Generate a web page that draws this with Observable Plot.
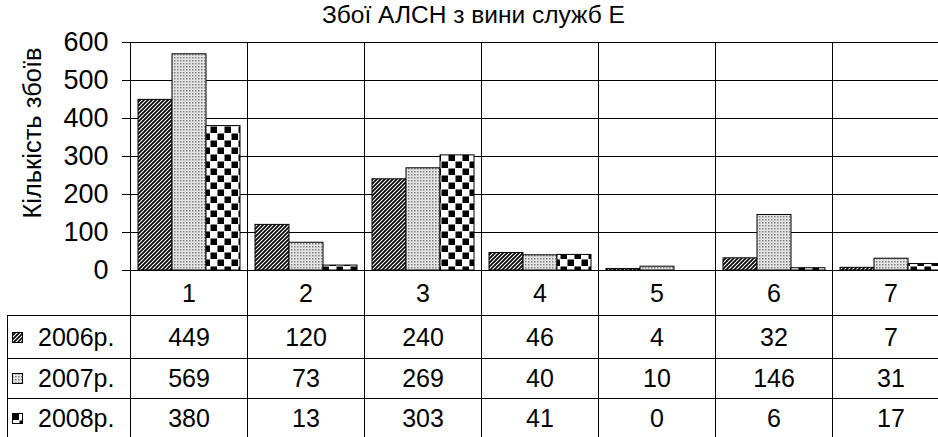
<!DOCTYPE html>
<html><head><meta charset="utf-8">
<script src="https://cdn.jsdelivr.net/npm/d3@7"></script>
<script src="https://cdn.jsdelivr.net/npm/@observablehq/plot@0.6"></script>
<style>
html,body{margin:0;padding:0;background:#fff;}
body{font-family:"Liberation Sans",Arial,sans-serif;color:#000;}
#wrap{position:relative;width:938px;height:437px;overflow:hidden;}
#title{position:absolute;top:1px;left:322px;white-space:nowrap;font-size:24.5px;}
#ylabel{position:absolute;left:32px;top:133px;transform:translate(-50%,-50%) rotate(-90deg);white-space:nowrap;font-size:25.5px;}
#chart{position:absolute;left:0;top:0;}
#table{position:absolute;left:7px;top:270px;display:grid;}
#table div{box-sizing:border-box;display:flex;align-items:center;justify-content:center;font-size:25px;border-left:1px solid #000;border-top:1px solid #000;white-space:nowrap;}
#table div.blank{border:none;}
#table div.key{justify-content:flex-start;padding-left:4px;}
#table div.key svg{margin-right:15px;border:0;flex:none;}
</style></head>
<body>
<div id="wrap">
  <div id="chart"></div>
  <div id="title"></div>
  <div id="ylabel"></div>
  <div id="table"></div>
</div>
<script>
const title = "Збої АЛСН з вини служб Е";
const yLabel = "Кількість збоїв";
const categories = ["1", "2", "3", "4", "5", "6", "7"];
const years = ["2006р.", "2007р.", "2008р."];
const v2006 = [449, 120, 240, 46, 4, 32, 7];
const v2007 = [569, 73, 269, 40, 10, 146, 31];
const v2008 = [380, 13, 303, 41, 0, 6, 17];
const yTicks = [0, 100, 200, 300, 400, 500, 600];

const series = [v2006, v2007, v2008];
const data = years.flatMap((yr, i) => categories.map((c, j) => ({cat: c, year: yr, s: i, value: series[i][j]})));

const step = 117;
const x0 = 130;
const xRange = [x0, x0 + step * categories.length];

const chart = Plot.plot({
  width: 938, height: 437,
  marginTop: 42, marginLeft: 130, marginRight: 0, marginBottom: 167,
  style: {fontFamily: "'Liberation Sans', Arial, sans-serif", fontSize: "27px", color: "#000", background: "transparent"},
  x: {type: "band", domain: categories, range: xRange, padding: 0, axis: null},
  y: {domain: [0, 600], ticks: yTicks, tickSize: 8, tickPadding: 14, label: null, tickFormat: d => String(d)},
  marks: [
    Plot.ruleY(yTicks, {stroke: "#000", strokeWidth: 1}),
    Plot.ruleX(categories, {x: d => d, dx: -step / 2, stroke: "#000", strokeWidth: 1}),
    ...years.map((yr, i) => Plot.barY(data.filter(d => d.s === i), {
      x: "cat", y: "value",
      fill: `url(#pat${i})`, stroke: "#000", strokeWidth: 1,
      insetLeft: 8 + 34 * i, insetRight: 7 + 34 * (2 - i)
    }))
  ]
});
document.getElementById("chart").appendChild(chart);

// patterns
const svg = d3.select(chart.tagName.toLowerCase() === "svg" ? chart : chart.querySelector("svg"));
const defs = svg.insert("defs", ":first-child");
const p0 = defs.append("pattern").attr("id", "pat0").attr("patternUnits", "userSpaceOnUse").attr("width", 4).attr("height", 4);
p0.append("rect").attr("width", 4).attr("height", 4).attr("fill", "#fff");
p0.append("path").attr("d", "M-1,1L1,-1M0,4L4,0M3,5L5,3").attr("stroke", "#000").attr("stroke-width", 1.7);
const p1 = defs.append("pattern").attr("id", "pat1").attr("patternUnits", "userSpaceOnUse").attr("width", 3).attr("height", 3);
p1.append("rect").attr("width", 3).attr("height", 3).attr("fill", "#e4e4e4");
p1.append("rect").attr("width", 1.5).attr("height", 1.5).attr("fill", "#808080");
const p2 = defs.append("pattern").attr("id", "pat2").attr("patternUnits", "userSpaceOnUse").attr("width", 14).attr("height", 14);
p2.append("rect").attr("width", 14).attr("height", 14).attr("fill", "#fff");
p2.append("rect").attr("x", 0.5).attr("y", 0.5).attr("width", 6.5).attr("height", 6.5).attr("fill", "#000");
p2.append("rect").attr("x", 7.5).attr("y", 7.5).attr("width", 6.5).attr("height", 6.5).attr("fill", "#000");

document.getElementById("title").textContent = title;
document.getElementById("ylabel").textContent = yLabel;

// data table
const table = document.getElementById("table");
const firstCol = x0 - 7;
table.style.gridTemplateColumns = `${firstCol}px repeat(${categories.length}, ${step}px)`;
table.style.gridTemplateRows = "45px 43px 40px 40px";
const blank = document.createElement("div"); blank.className = "blank"; table.appendChild(blank);
categories.forEach(c => { const d = document.createElement("div"); d.textContent = c; table.appendChild(d); });
const keyPat = ["pat0", "pat1", "pat2"];
years.forEach((yr, i) => {
  const k = document.createElement("div"); k.className = "key";
  k.innerHTML = `<svg width="11" height="11"><rect x="0.5" y="0.5" width="10" height="10" fill="url(#${keyPat[i]})" stroke="#000"/></svg><span>${yr}</span>`;
  table.appendChild(k);
  series[i].forEach(v => { const d = document.createElement("div"); d.textContent = v; table.appendChild(d); });
});
</script>
</body></html>
